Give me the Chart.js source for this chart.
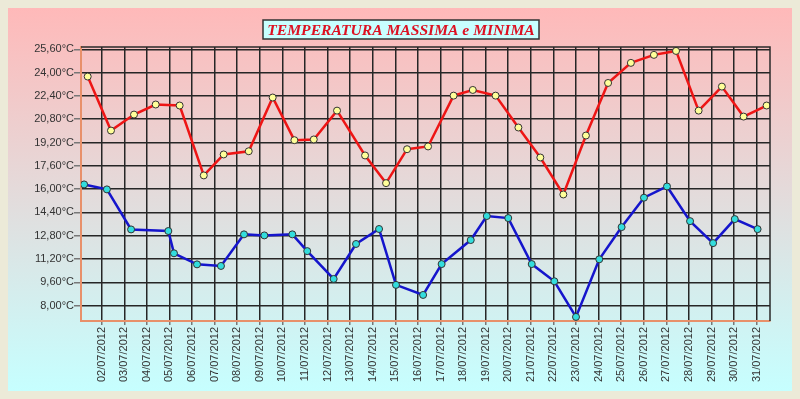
<!DOCTYPE html>
<html>
<head>
<meta charset="utf-8">
<script src="https://cdn.jsdelivr.net/npm/chart.js@4.4.1/dist/chart.umd.min.js"></script>
<style>
  html, body { margin: 0; padding: 0; background: #ecead8; }
  #wrap { width: 800px; height: 399px; }
</style>
</head>
<body>
<div id="wrap"><canvas id="tempChart" width="800" height="399"></canvas></div>
<script>
// time of reading, as day of July 2012 (fractional)
var maxDays = [1.38, 2.41, 3.43, 4.39, 5.45, 6.52, 7.40, 8.51, 9.57, 10.53, 11.39, 12.42, 13.66, 14.59, 15.52, 16.45,
               17.58, 18.43, 19.44, 20.45, 21.42, 22.44, 23.44, 24.42, 25.43, 26.45, 27.43, 28.43, 29.46, 30.42, 31.44];
var maxTemps = [23.73, 20.02, 21.12, 21.81, 21.74, 16.94, 18.38, 18.60, 22.29, 19.36, 19.41, 21.39, 18.31, 16.41, 18.74, 18.93,
                22.42, 22.81, 22.42, 20.23, 18.17, 15.63, 19.68, 23.29, 24.67, 25.22, 25.49, 21.39, 23.04, 20.98, 21.74];

var minDays = [1.22, 2.23, 3.30, 4.95, 5.20, 6.22, 7.28, 8.30, 9.20, 10.44, 11.10, 12.27, 13.26, 14.28, 15.03, 16.23,
               17.05, 18.34, 19.05, 20.00, 21.04, 22.04, 23.00, 24.03, 25.02, 26.01, 27.03, 28.05, 29.07, 30.03, 31.04];
var minTemps = [16.32, 15.98, 13.23, 13.12, 11.59, 10.83, 10.72, 12.89, 12.82, 12.89, 11.74, 9.83, 12.23, 13.26, 9.42, 8.73,
                10.85, 12.50, 14.15, 14.01, 10.85, 9.67, 7.22, 11.18, 13.39, 15.41, 16.18, 13.80, 12.29, 13.94, 13.25];

var xTickDays = [2, 3, 4, 5, 6, 7, 8, 9, 10, 11, 12, 13, 14, 15, 16, 17, 18, 19, 20, 21, 22, 23, 24, 25, 26, 27, 28, 29, 30, 31];
var xTickLabels = ["02/07/2012", "03/07/2012", "04/07/2012", "05/07/2012", "06/07/2012", "07/07/2012", "08/07/2012",
                   "09/07/2012", "10/07/2012", "11/07/2012", "12/07/2012", "13/07/2012", "14/07/2012", "15/07/2012",
                   "16/07/2012", "17/07/2012", "18/07/2012", "19/07/2012", "20/07/2012", "21/07/2012", "22/07/2012",
                   "23/07/2012", "24/07/2012", "25/07/2012", "26/07/2012", "27/07/2012", "28/07/2012", "29/07/2012",
                   "30/07/2012", "31/07/2012"];
var yTicks = [8.0, 9.6, 11.2, 12.8, 14.4, 16.0, 17.6, 19.2, 20.8, 22.4, 24.0, 25.6];

var chartTitle = "TEMPERATURA MASSIMA e MINIMA";

function toPoints(xs, ys) {
    return xs.map(function (x, i) { return {x: x, y: ys[i]}; });
}

// panel background, frame and boxed title
var panelPlugin = {
    id: 'panel',
    beforeDraw: function (chart) {
        var ctx = chart.ctx;
        ctx.save();
        ctx.fillStyle = '#ecead8';
        ctx.fillRect(0, 0, 800, 399);
        var g = ctx.createLinearGradient(0, 8, 0, 391);
        g.addColorStop(0, '#ffb9b9');
        g.addColorStop(1, '#c6ffff');
        ctx.fillStyle = g;
        ctx.fillRect(8, 8, 784, 383);
        ctx.restore();
    },
    afterDraw: function (chart) {
        var ctx = chart.ctx, a = chart.chartArea;
        ctx.save();
        // top and right border of plot
        ctx.strokeStyle = '#2a2a2a';
        ctx.lineWidth = 1.5;
        ctx.beginPath();
        ctx.moveTo(a.left, a.top);
        ctx.lineTo(a.right, a.top);
        ctx.lineTo(a.right, a.bottom);
        ctx.stroke();

        // title box
        ctx.fillStyle = '#c8ffff';
        ctx.fillRect(263, 20, 276, 19);
        ctx.strokeStyle = '#333';
        ctx.lineWidth = 1.5;
        ctx.strokeRect(263, 20, 276, 19);
        ctx.font = 'italic bold 20px "Liberation Serif", "Times New Roman", serif';
        var w = ctx.measureText(chartTitle).width;
        var size = 20 * 268 / w;
        ctx.font = 'italic bold ' + size.toFixed(1) + 'px "Liberation Serif", "Times New Roman", serif';
        ctx.fillStyle = '#dd1122';
        ctx.textAlign = 'center';
        ctx.textBaseline = 'alphabetic';
        ctx.fillText(chartTitle, 401, 35);
        ctx.restore();
    }
};

var lineData = {
    datasets: [
        {
            label: "MASSIMA",
            data: toPoints(maxDays, maxTemps),
            borderColor: '#ee1515',
            borderWidth: 2.5,
            pointBackgroundColor: '#ffff99',
            pointBorderColor: '#333',
            pointBorderWidth: 1,
            pointRadius: 3.5,
            tension: 0
        },
        {
            label: "MINIMA",
            data: toPoints(minDays, minTemps),
            borderColor: '#1515cc',
            borderWidth: 2.5,
            pointBackgroundColor: '#33dddd',
            pointBorderColor: '#333',
            pointBorderWidth: 1,
            pointRadius: 3.5,
            tension: 0
        }
    ]
};

var lineOptions = {
    responsive: false,
    animation: false,
    layout: { padding: { left: 0, right: 30, top: 47, bottom: 0 }, autoPadding: false },
    plugins: { legend: { display: false }, tooltip: { enabled: false }, title: { display: false } },
    scales: {
        x: {
            type: 'linear',
            min: 1.083,
            max: 31.59,
            afterBuildTicks: function (scale) {
                scale.ticks = xTickDays.map(function (d) { return {value: d}; });
            },
            afterFit: function (scale) { scale.height = 78; },
            grid: { color: '#262626', lineWidth: 1.5, tickColor: '#777', tickLength: 4 },
            border: { color: '#e8906a', width: 2 },
            ticks: {
                minRotation: 90,
                maxRotation: 90,
                padding: 2,
                color: '#333',
                font: { family: '"Liberation Sans", Arial, sans-serif', size: 11 },
                callback: function (v) {
                    var i = xTickDays.indexOf(Math.round(v));
                    return i >= 0 ? xTickLabels[i] : '';
                }
            }
        },
        y: {
            type: 'linear',
            min: 6.94,
            max: 25.76,
            afterBuildTicks: function (scale) {
                scale.ticks = yTicks.map(function (t) { return {value: t}; });
            },
            afterFit: function (scale) { scale.width = 81; },
            grid: { color: '#262626', lineWidth: 1.5, tickColor: '#777', tickLength: 7 },
            border: { color: '#e8906a', width: 2 },
            ticks: {
                padding: 0,
                color: '#333',
                font: { family: '"Liberation Sans", Arial, sans-serif', size: 11 },
                callback: function (v) { return v.toFixed(2).replace('.', ',') + '°C'; }
            }
        }
    }
};

var ctx = document.getElementById("tempChart").getContext("2d");
new Chart(ctx, {type: 'line', data: lineData, options: lineOptions, plugins: [panelPlugin]});
</script>
</body>
</html>
